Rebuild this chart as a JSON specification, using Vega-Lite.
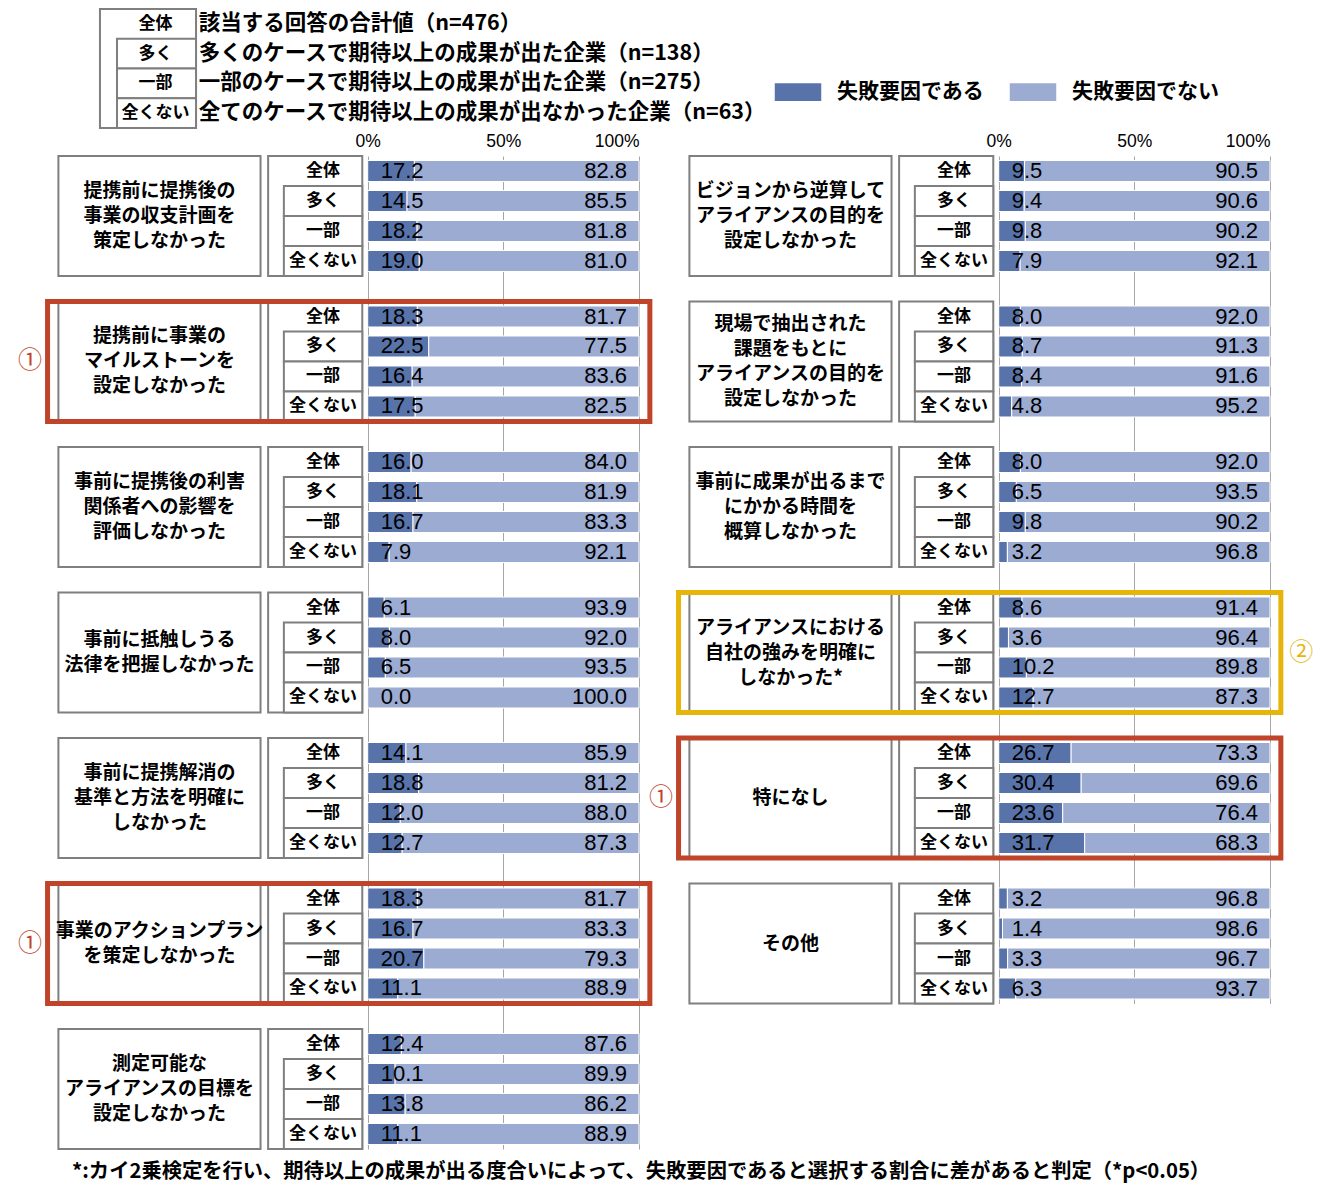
{
  "$schema": "https://vega.github.io/schema/vega-lite/v6.json",
  "padding": {"left": 15, "top": 8, "right": 5, "bottom": 5},
  "background": "white",
  "datasets": {
    "keys": [
      {"sub": "全体", "desc": "該当する回答の合計値（n=476）"},
      {"sub": "多く", "desc": "多くのケースで期待以上の成果が出た企業（n=138）"},
      {"sub": "一部", "desc": "一部のケースで期待以上の成果が出た企業（n=275）"},
      {"sub": "全くない", "desc": "全てのケースで期待以上の成果が出なかった企業（n=63）"}
    ],
    "left": [
      {"item": "提携前に提携後の\n事業の収支計画を\n策定しなかった", "sub": "全体", "失敗要因である": 17.2, "失敗要因でない": 82.8},
      {"item": "提携前に提携後の\n事業の収支計画を\n策定しなかった", "sub": "多く", "失敗要因である": 14.5, "失敗要因でない": 85.5},
      {"item": "提携前に提携後の\n事業の収支計画を\n策定しなかった", "sub": "一部", "失敗要因である": 18.2, "失敗要因でない": 81.8},
      {"item": "提携前に提携後の\n事業の収支計画を\n策定しなかった", "sub": "全くない", "失敗要因である": 19.0, "失敗要因でない": 81.0},
      {"item": "提携前に事業の\nマイルストーンを\n設定しなかった", "sub": "全体", "失敗要因である": 18.3, "失敗要因でない": 81.7, "note": "①"},
      {"item": "提携前に事業の\nマイルストーンを\n設定しなかった", "sub": "多く", "失敗要因である": 22.5, "失敗要因でない": 77.5, "note": "①"},
      {"item": "提携前に事業の\nマイルストーンを\n設定しなかった", "sub": "一部", "失敗要因である": 16.4, "失敗要因でない": 83.6, "note": "①"},
      {"item": "提携前に事業の\nマイルストーンを\n設定しなかった", "sub": "全くない", "失敗要因である": 17.5, "失敗要因でない": 82.5, "note": "①"},
      {"item": "事前に提携後の利害\n関係者への影響を\n評価しなかった", "sub": "全体", "失敗要因である": 16.0, "失敗要因でない": 84.0},
      {"item": "事前に提携後の利害\n関係者への影響を\n評価しなかった", "sub": "多く", "失敗要因である": 18.1, "失敗要因でない": 81.9},
      {"item": "事前に提携後の利害\n関係者への影響を\n評価しなかった", "sub": "一部", "失敗要因である": 16.7, "失敗要因でない": 83.3},
      {"item": "事前に提携後の利害\n関係者への影響を\n評価しなかった", "sub": "全くない", "失敗要因である": 7.9, "失敗要因でない": 92.1},
      {"item": "事前に抵触しうる\n法律を把握しなかった", "sub": "全体", "失敗要因である": 6.1, "失敗要因でない": 93.9},
      {"item": "事前に抵触しうる\n法律を把握しなかった", "sub": "多く", "失敗要因である": 8.0, "失敗要因でない": 92.0},
      {"item": "事前に抵触しうる\n法律を把握しなかった", "sub": "一部", "失敗要因である": 6.5, "失敗要因でない": 93.5},
      {"item": "事前に抵触しうる\n法律を把握しなかった", "sub": "全くない", "失敗要因である": 0.0, "失敗要因でない": 100.0},
      {"item": "事前に提携解消の\n基準と方法を明確に\nしなかった", "sub": "全体", "失敗要因である": 14.1, "失敗要因でない": 85.9},
      {"item": "事前に提携解消の\n基準と方法を明確に\nしなかった", "sub": "多く", "失敗要因である": 18.8, "失敗要因でない": 81.2},
      {"item": "事前に提携解消の\n基準と方法を明確に\nしなかった", "sub": "一部", "失敗要因である": 12.0, "失敗要因でない": 88.0},
      {"item": "事前に提携解消の\n基準と方法を明確に\nしなかった", "sub": "全くない", "失敗要因である": 12.7, "失敗要因でない": 87.3},
      {"item": "事業のアクションプラン\nを策定しなかった", "sub": "全体", "失敗要因である": 18.3, "失敗要因でない": 81.7, "note": "①"},
      {"item": "事業のアクションプラン\nを策定しなかった", "sub": "多く", "失敗要因である": 16.7, "失敗要因でない": 83.3, "note": "①"},
      {"item": "事業のアクションプラン\nを策定しなかった", "sub": "一部", "失敗要因である": 20.7, "失敗要因でない": 79.3, "note": "①"},
      {"item": "事業のアクションプラン\nを策定しなかった", "sub": "全くない", "失敗要因である": 11.1, "失敗要因でない": 88.9, "note": "①"},
      {"item": "測定可能な\nアライアンスの目標を\n設定しなかった", "sub": "全体", "失敗要因である": 12.4, "失敗要因でない": 87.6},
      {"item": "測定可能な\nアライアンスの目標を\n設定しなかった", "sub": "多く", "失敗要因である": 10.1, "失敗要因でない": 89.9},
      {"item": "測定可能な\nアライアンスの目標を\n設定しなかった", "sub": "一部", "失敗要因である": 13.8, "失敗要因でない": 86.2},
      {"item": "測定可能な\nアライアンスの目標を\n設定しなかった", "sub": "全くない", "失敗要因である": 11.1, "失敗要因でない": 88.9}
    ],
    "right": [
      {"item": "ビジョンから逆算して\nアライアンスの目的を\n設定しなかった", "sub": "全体", "失敗要因である": 9.5, "失敗要因でない": 90.5},
      {"item": "ビジョンから逆算して\nアライアンスの目的を\n設定しなかった", "sub": "多く", "失敗要因である": 9.4, "失敗要因でない": 90.6},
      {"item": "ビジョンから逆算して\nアライアンスの目的を\n設定しなかった", "sub": "一部", "失敗要因である": 9.8, "失敗要因でない": 90.2},
      {"item": "ビジョンから逆算して\nアライアンスの目的を\n設定しなかった", "sub": "全くない", "失敗要因である": 7.9, "失敗要因でない": 92.1},
      {"item": "現場で抽出された\n課題をもとに\nアライアンスの目的を\n設定しなかった", "sub": "全体", "失敗要因である": 8.0, "失敗要因でない": 92.0},
      {"item": "現場で抽出された\n課題をもとに\nアライアンスの目的を\n設定しなかった", "sub": "多く", "失敗要因である": 8.7, "失敗要因でない": 91.3},
      {"item": "現場で抽出された\n課題をもとに\nアライアンスの目的を\n設定しなかった", "sub": "一部", "失敗要因である": 8.4, "失敗要因でない": 91.6},
      {"item": "現場で抽出された\n課題をもとに\nアライアンスの目的を\n設定しなかった", "sub": "全くない", "失敗要因である": 4.8, "失敗要因でない": 95.2},
      {"item": "事前に成果が出るまで\nにかかる時間を\n概算しなかった", "sub": "全体", "失敗要因である": 8.0, "失敗要因でない": 92.0},
      {"item": "事前に成果が出るまで\nにかかる時間を\n概算しなかった", "sub": "多く", "失敗要因である": 6.5, "失敗要因でない": 93.5},
      {"item": "事前に成果が出るまで\nにかかる時間を\n概算しなかった", "sub": "一部", "失敗要因である": 9.8, "失敗要因でない": 90.2},
      {"item": "事前に成果が出るまで\nにかかる時間を\n概算しなかった", "sub": "全くない", "失敗要因である": 3.2, "失敗要因でない": 96.8},
      {"item": "アライアンスにおける\n自社の強みを明確に\nしなかった*", "sub": "全体", "失敗要因である": 8.6, "失敗要因でない": 91.4, "note": "②"},
      {"item": "アライアンスにおける\n自社の強みを明確に\nしなかった*", "sub": "多く", "失敗要因である": 3.6, "失敗要因でない": 96.4, "note": "②"},
      {"item": "アライアンスにおける\n自社の強みを明確に\nしなかった*", "sub": "一部", "失敗要因である": 10.2, "失敗要因でない": 89.8, "note": "②"},
      {"item": "アライアンスにおける\n自社の強みを明確に\nしなかった*", "sub": "全くない", "失敗要因である": 12.7, "失敗要因でない": 87.3, "note": "②"},
      {"item": "特になし", "sub": "全体", "失敗要因である": 26.7, "失敗要因でない": 73.3, "note": "①"},
      {"item": "特になし", "sub": "多く", "失敗要因である": 30.4, "失敗要因でない": 69.6, "note": "①"},
      {"item": "特になし", "sub": "一部", "失敗要因である": 23.6, "失敗要因でない": 76.4, "note": "①"},
      {"item": "特になし", "sub": "全くない", "失敗要因である": 31.7, "失敗要因でない": 68.3, "note": "①"},
      {"item": "その他", "sub": "全体", "失敗要因である": 3.2, "失敗要因でない": 96.8},
      {"item": "その他", "sub": "多く", "失敗要因である": 1.4, "失敗要因でない": 98.6},
      {"item": "その他", "sub": "一部", "失敗要因である": 3.3, "失敗要因でない": 96.7},
      {"item": "その他", "sub": "全くない", "失敗要因である": 6.3, "失敗要因でない": 93.7}
    ]
  },
  "title": {
    "text": "*:カイ2乗検定を行い、期待以上の成果が出る度合いによって、失敗要因であると選択する割合に差があると判定（*p<0.05）",
    "orient": "bottom", "anchor": "start", "dx": 57, "offset": 12,
    "font": "Noto Sans CJK JP", "fontSize": 20.3, "fontWeight": "bold", "color": "#000000"
  },
  "spacing": 3,
  "vconcat": [
    {
      "width": 735, "height": 119,
      "data": {"name": "keys"},
      "layer": [
        {
          "transform": [{"filter": "datum.sub === '全体'"}],
          "mark": {"type": "rect", "fill": "white", "stroke": "#7f7f7f", "strokeWidth": 2},
          "encoding": {
            "x": {"datum": 11.56, "type": "quantitative", "scale": {"domain": [0, 100], "nice": false, "zero": false}, "axis": null},
            "x2": {"datum": 24.63}
          }
        },
        {
          "transform": [{"filter": "datum.sub !== '全体'"}],
          "mark": {"type": "rect", "fill": "white", "stroke": "#7f7f7f", "strokeWidth": 2},
          "encoding": {
            "x": {"datum": 13.88, "type": "quantitative"},
            "x2": {"datum": 24.63},
            "y": {"field": "sub", "type": "nominal", "axis": null, "scale": {"domain": ["全体", "多く", "一部", "全くない"], "paddingInner": 0, "paddingOuter": 0}}
          }
        },
        {
          "mark": {"type": "text", "fontSize": 17, "fontWeight": "bold", "color": "#000000"},
          "encoding": {
            "x": {"datum": 19.1, "type": "quantitative"},
            "y": {"field": "sub", "type": "nominal", "axis": null, "scale": {"domain": ["全体", "多く", "一部", "全くない"], "paddingInner": 0, "paddingOuter": 0}},
            "text": {"field": "sub"}
          }
        },
        {
          "mark": {"type": "text", "align": "left", "fontSize": 21.5, "fontWeight": "bold", "color": "#000000"},
          "encoding": {
            "x": {"datum": 25.0, "type": "quantitative"},
            "y": {"field": "sub", "type": "nominal", "axis": null, "scale": {"domain": ["全体", "多く", "一部", "全くない"], "paddingInner": 0, "paddingOuter": 0}},
            "text": {"field": "desc"}
          }
        }
      ]
    },
    {
      "hconcat": [
        {
          "width": 624, "height": 993,
          "data": {"name": "left"},
          "resolve": {"scale": {"yOffset": "independent"}},
          "encoding": {
            "y": {"field": "item", "type": "nominal", "sort": null, "axis": null, "scale": {"paddingInner": 0.1753, "paddingOuter": 0}}
          },
          "layer": [
            {
              "transform": [{"filter": "datum.sub === '全体'"}],
              "mark": {"type": "rect", "fill": "white", "stroke": "#7f7f7f", "strokeWidth": 2},
              "encoding": {
                "x": {"datum": -114, "type": "quantitative", "scale": {"domain": [-130, 100], "nice": false, "zero": false},
                  "axis": {"orient": "top", "values": [0, 50, 100], "labelExpr": "datum.value + '%'", "domain": false, "ticks": false, "grid": true, "gridColor": "#a6a6a6", "gridWidth": 1, "labelFont": "Liberation Sans", "labelFontSize": 17.5, "labelColor": "#000000", "labelPadding": 6, "title": null}},
                "x2": {"datum": -39.5}
              }
            },
            {
              "transform": [{"filter": "datum.sub === '全体'"}],
              "mark": {"type": "text", "fontSize": 19, "fontWeight": "bold", "lineBreak": "\n", "lineHeight": 25, "color": "#000000", "dy": {"expr": "-12.5 * (length(split(datum.item, '\\n')) - 1)"}},
              "encoding": {
                "x": {"datum": -76.75, "type": "quantitative"},
                "text": {"field": "item"}
              }
            },
            {
              "transform": [{"filter": "datum.sub === '全体'"}],
              "mark": {"type": "rect", "fill": "white", "stroke": "#7f7f7f", "strokeWidth": 2},
              "encoding": {
                "x": {"datum": -36.7, "type": "quantitative"},
                "x2": {"datum": -2}
              }
            },
            {
              "transform": [{"filter": "datum.sub !== '全体'"}],
              "mark": {"type": "rect", "fill": "white", "stroke": "#7f7f7f", "strokeWidth": 2},
              "encoding": {
                "x": {"datum": -30.9, "type": "quantitative"},
                "x2": {"datum": -2},
                "yOffset": {"field": "sub", "type": "nominal", "scale": {"type": "band", "domain": ["全体", "多く", "一部", "全くない"], "paddingInner": 0, "paddingOuter": 0}}
              }
            },
            {
              "mark": {"type": "text", "fontSize": 17, "fontWeight": "bold", "color": "#000000"},
              "encoding": {
                "x": {"datum": -16.5, "type": "quantitative"},
                "yOffset": {"field": "sub", "type": "nominal", "scale": {"type": "band", "domain": ["全体", "多く", "一部", "全くない"], "paddingInner": 0, "paddingOuter": 0}},
                "text": {"field": "sub"}
              }
            },
            {
              "transform": [{"fold": ["失敗要因である", "失敗要因でない"], "as": ["key", "value"]}],
              "mark": {"type": "bar", "stroke": "white", "strokeWidth": 1},
              "encoding": {
                "x": {"field": "value", "type": "quantitative", "stack": "zero", "scale": {"domain": [-130, 100], "nice": false, "zero": false}},
                "yOffset": {"field": "sub", "type": "nominal", "scale": {"type": "band", "domain": ["全体", "多く", "一部", "全くない"], "paddingInner": 0.3, "paddingOuter": 0.15}},
                "color": {"field": "key", "type": "nominal", "scale": {"domain": ["失敗要因である", "失敗要因でない"], "range": ["#5873AA", "#9BABD2"]},
                  "legend": {"orient": "none", "legendX": 758, "legendY": 58, "direction": "horizontal", "title": null, "symbolType": "M-1,-0.4H1V0.4H-1Z", "symbolSize": 2304, "symbolStrokeColor": "#7f7f7f", "symbolStrokeWidth": 1.5, "labelFont": "Noto Sans CJK JP", "labelFontSize": 21, "labelFontWeight": "bold", "labelColor": "#000000", "labelOffset": 14, "columnPadding": 22, "padding": 0, "labelLimit": 300}},
                "order": {"field": "key", "type": "ordinal", "sort": "ascending"}
              }
            },
            {
              "mark": {"type": "text", "align": "left", "dx": 13, "font": "Liberation Sans", "fontSize": 22, "color": "#000000"},
              "encoding": {
                "x": {"datum": 0, "type": "quantitative"},
                "yOffset": {"field": "sub", "type": "nominal", "scale": {"type": "band", "domain": ["全体", "多く", "一部", "全くない"], "paddingInner": 0, "paddingOuter": 0}},
                "text": {"field": "失敗要因である", "type": "quantitative", "format": ".1f"}
              }
            },
            {
              "mark": {"type": "text", "align": "right", "dx": -12, "font": "Liberation Sans", "fontSize": 22, "color": "#000000"},
              "encoding": {
                "x": {"datum": 100, "type": "quantitative"},
                "yOffset": {"field": "sub", "type": "nominal", "scale": {"type": "band", "domain": ["全体", "多く", "一部", "全くない"], "paddingInner": 0, "paddingOuter": 0}},
                "text": {"field": "失敗要因でない", "type": "quantitative", "format": ".1f"}
              }
            },
            {
              "transform": [{"filter": "isValid(datum.note) && datum.sub === '全体'"}],
              "mark": {"type": "rect", "fill": "transparent", "strokeWidth": 5},
              "encoding": {
                "x": {"datum": -118, "type": "quantitative"},
                "x2": {"datum": 104},
                "stroke": {"field": "note", "type": "nominal", "scale": {"domain": ["①", "②"], "range": ["#C0442A", "#E5B50A"]}, "legend": null}
              }
            },
            {
              "transform": [{"filter": "datum.note === '①' && datum.sub === '全体'"}],
              "mark": {"type": "text", "fontSize": 24},
              "encoding": {
                "x": {"datum": -124.5, "type": "quantitative"},
                "text": {"field": "note"},
                "fill": {"field": "note", "type": "nominal", "scale": {"domain": ["①", "②"], "range": ["#C0442A", "#E5B50A"]}, "legend": null}
              }
            },
            {
              "transform": [{"filter": "datum.note === '②' && datum.sub === '全体'"}],
              "mark": {"type": "text", "fontSize": 24},
              "encoding": {
                "x": {"datum": 111.5, "type": "quantitative"},
                "text": {"field": "note"},
                "fill": {"field": "note", "type": "nominal", "scale": {"domain": ["①", "②"], "range": ["#C0442A", "#E5B50A"]}, "legend": null}
              }
            }
          ]
        },
        {
          "width": 624, "height": 847.5,
          "data": {"name": "right"},
          "resolve": {"scale": {"yOffset": "independent"}},
          "encoding": {
            "y": {"field": "item", "type": "nominal", "sort": null, "axis": null, "scale": {"paddingInner": 0.1753, "paddingOuter": 0}}
          },
          "layer": [
            {
              "transform": [{"filter": "datum.sub === '全体'"}],
              "mark": {"type": "rect", "fill": "white", "stroke": "#7f7f7f", "strokeWidth": 2},
              "encoding": {
                "x": {"datum": -114, "type": "quantitative", "scale": {"domain": [-130, 100], "nice": false, "zero": false},
                  "axis": {"orient": "top", "values": [0, 50, 100], "labelExpr": "datum.value + '%'", "domain": false, "ticks": false, "grid": true, "gridColor": "#a6a6a6", "gridWidth": 1, "labelFont": "Liberation Sans", "labelFontSize": 17.5, "labelColor": "#000000", "labelPadding": 6, "title": null}},
                "x2": {"datum": -39.5}
              }
            },
            {
              "transform": [{"filter": "datum.sub === '全体'"}],
              "mark": {"type": "text", "fontSize": 19, "fontWeight": "bold", "lineBreak": "\n", "lineHeight": 25, "color": "#000000", "dy": {"expr": "-12.5 * (length(split(datum.item, '\\n')) - 1)"}},
              "encoding": {
                "x": {"datum": -76.75, "type": "quantitative"},
                "text": {"field": "item"}
              }
            },
            {
              "transform": [{"filter": "datum.sub === '全体'"}],
              "mark": {"type": "rect", "fill": "white", "stroke": "#7f7f7f", "strokeWidth": 2},
              "encoding": {
                "x": {"datum": -36.7, "type": "quantitative"},
                "x2": {"datum": -2}
              }
            },
            {
              "transform": [{"filter": "datum.sub !== '全体'"}],
              "mark": {"type": "rect", "fill": "white", "stroke": "#7f7f7f", "strokeWidth": 2},
              "encoding": {
                "x": {"datum": -30.9, "type": "quantitative"},
                "x2": {"datum": -2},
                "yOffset": {"field": "sub", "type": "nominal", "scale": {"type": "band", "domain": ["全体", "多く", "一部", "全くない"], "paddingInner": 0, "paddingOuter": 0}}
              }
            },
            {
              "mark": {"type": "text", "fontSize": 17, "fontWeight": "bold", "color": "#000000"},
              "encoding": {
                "x": {"datum": -16.5, "type": "quantitative"},
                "yOffset": {"field": "sub", "type": "nominal", "scale": {"type": "band", "domain": ["全体", "多く", "一部", "全くない"], "paddingInner": 0, "paddingOuter": 0}},
                "text": {"field": "sub"}
              }
            },
            {
              "transform": [{"fold": ["失敗要因である", "失敗要因でない"], "as": ["key", "value"]}],
              "mark": {"type": "bar", "stroke": "white", "strokeWidth": 1},
              "encoding": {
                "x": {"field": "value", "type": "quantitative", "stack": "zero", "scale": {"domain": [-130, 100], "nice": false, "zero": false}},
                "yOffset": {"field": "sub", "type": "nominal", "scale": {"type": "band", "domain": ["全体", "多く", "一部", "全くない"], "paddingInner": 0.3, "paddingOuter": 0.15}},
                "color": {"field": "key", "type": "nominal", "scale": {"domain": ["失敗要因である", "失敗要因でない"], "range": ["#5873AA", "#9BABD2"]}},
                "order": {"field": "key", "type": "ordinal", "sort": "ascending"}
              }
            },
            {
              "mark": {"type": "text", "align": "left", "dx": 13, "font": "Liberation Sans", "fontSize": 22, "color": "#000000"},
              "encoding": {
                "x": {"datum": 0, "type": "quantitative"},
                "yOffset": {"field": "sub", "type": "nominal", "scale": {"type": "band", "domain": ["全体", "多く", "一部", "全くない"], "paddingInner": 0, "paddingOuter": 0}},
                "text": {"field": "失敗要因である", "type": "quantitative", "format": ".1f"}
              }
            },
            {
              "mark": {"type": "text", "align": "right", "dx": -12, "font": "Liberation Sans", "fontSize": 22, "color": "#000000"},
              "encoding": {
                "x": {"datum": 100, "type": "quantitative"},
                "yOffset": {"field": "sub", "type": "nominal", "scale": {"type": "band", "domain": ["全体", "多く", "一部", "全くない"], "paddingInner": 0, "paddingOuter": 0}},
                "text": {"field": "失敗要因でない", "type": "quantitative", "format": ".1f"}
              }
            },
            {
              "transform": [{"filter": "isValid(datum.note) && datum.sub === '全体'"}],
              "mark": {"type": "rect", "fill": "transparent", "strokeWidth": 5},
              "encoding": {
                "x": {"datum": -118, "type": "quantitative"},
                "x2": {"datum": 104},
                "stroke": {"field": "note", "type": "nominal", "scale": {"domain": ["①", "②"], "range": ["#C0442A", "#E5B50A"]}, "legend": null}
              }
            },
            {
              "transform": [{"filter": "datum.note === '①' && datum.sub === '全体'"}],
              "mark": {"type": "text", "fontSize": 24},
              "encoding": {
                "x": {"datum": -124.5, "type": "quantitative"},
                "text": {"field": "note"},
                "fill": {"field": "note", "type": "nominal", "scale": {"domain": ["①", "②"], "range": ["#C0442A", "#E5B50A"]}, "legend": null}
              }
            },
            {
              "transform": [{"filter": "datum.note === '②' && datum.sub === '全体'"}],
              "mark": {"type": "text", "fontSize": 24},
              "encoding": {
                "x": {"datum": 111.5, "type": "quantitative"},
                "text": {"field": "note"},
                "fill": {"field": "note", "type": "nominal", "scale": {"domain": ["①", "②"], "range": ["#C0442A", "#E5B50A"]}, "legend": null}
              }
            }
          ]
        }
      ],
      "spacing": 7,
      "bounds": "flush"
    }
  ],
  "config": {
    "view": {"stroke": null},
    "font": "Noto Sans CJK JP",
    "text": {"font": "Noto Sans CJK JP"}
  }
}
